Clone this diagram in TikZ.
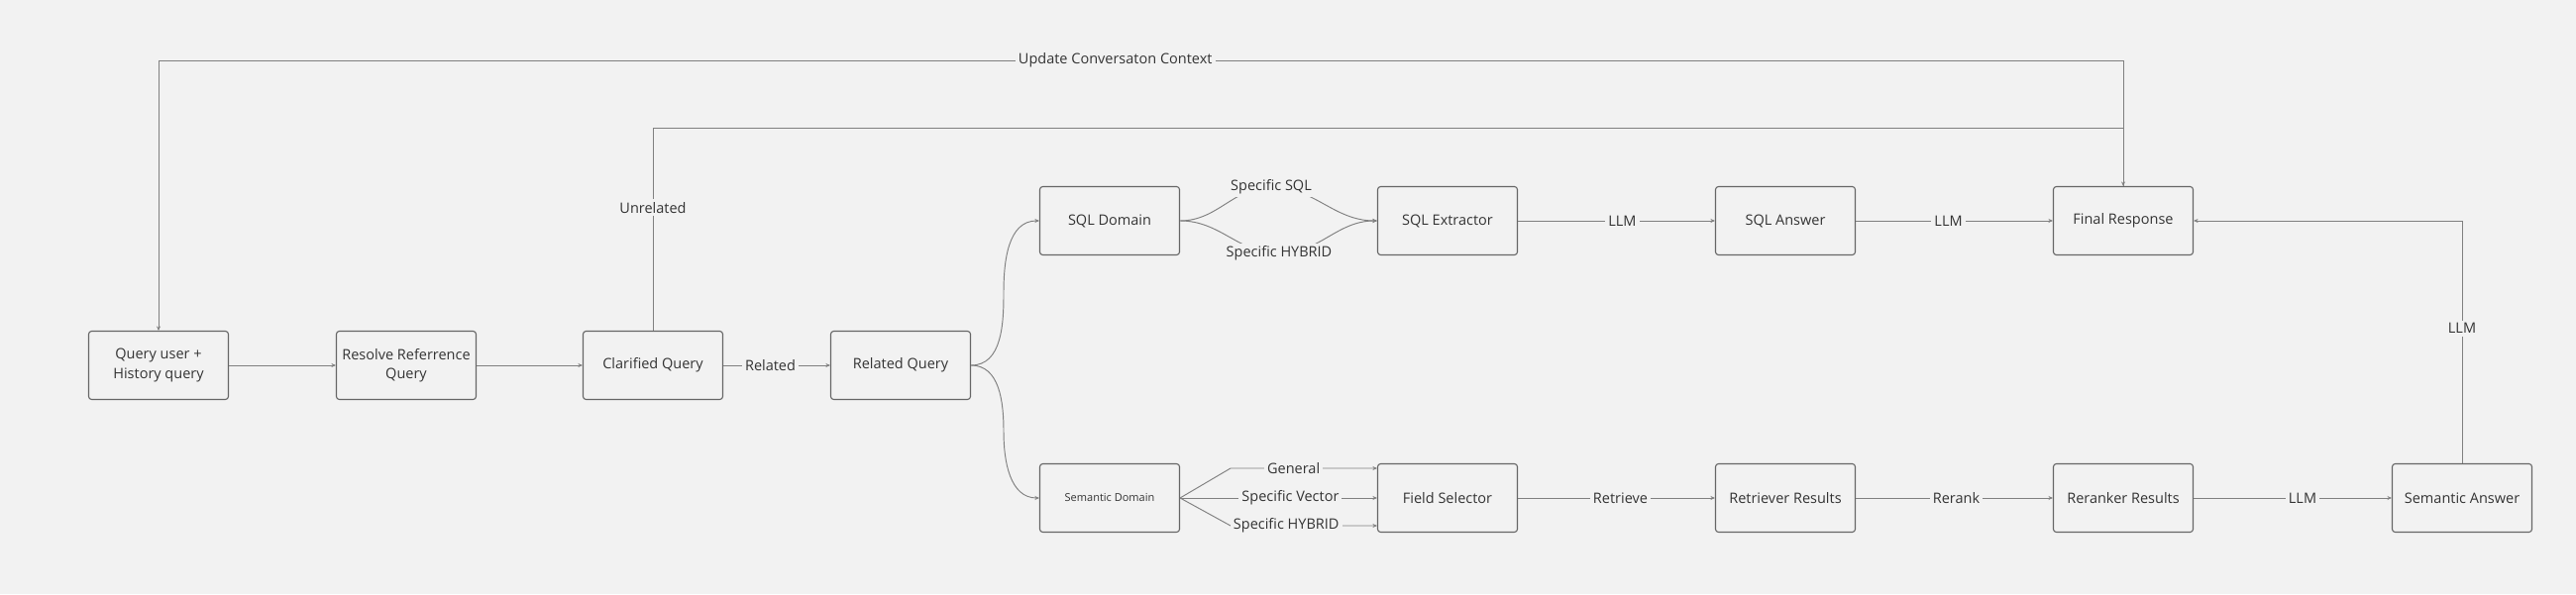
\documentclass[tikz,border=0pt]{standalone}
\usepackage{fontspec}
\setmainfont{Open Sans}
\usetikzlibrary{arrows.meta}
\definecolor{bg}{HTML}{F2F2F2}
\definecolor{bordc}{HTML}{666666}
\definecolor{linec}{HTML}{808080}
\definecolor{txtc}{HTML}{333333}
\begin{document}
\begin{tikzpicture}[x=1pt,y=1pt,
  box/.style={draw=bordc, line width=1.1pt, rounded corners=3pt, fill=bg,
    minimum width=141pt, minimum height=69pt, align=center, text=txtc,
    font=\fontsize{14.5}{19.5}\selectfont, inner sep=2pt},
  conn/.style={draw=linec, line width=0.95pt, -{Stealth[length=4.5pt,width=4pt]}},
  lbl/.style={fill=bg, text=txtc, font=\fontsize{14.5}{17}\selectfont, inner sep=3pt}]
\fill[bg] (0,0) rectangle (2600,600);
\useasboundingbox (0,0) rectangle (2600,600);

% nodes
\node[box] (q)    at (160,231)  {Query user +\\History query};
\node[box] (res)  at (410,231)  {Resolve Referrence\\Query};
\node[box] (clar) at (659,231)  {Clarified Query};
\node[box] (rel)  at (909,231)  {Related Query};
\node[box] (sqld) at (1120,377) {SQL Domain};
\node[box, font=\fontsize{11}{14}\selectfont] (semd) at (1120,97) {Semantic Domain};
\node[box] (sqlx) at (1461,377) {SQL Extractor};
\node[box] (fs)   at (1461,97)  {Field Selector};
\node[box] (sqla) at (1802,377) {SQL Answer};
\node[box] (ret)  at (1802,97)  {Retriever Results};
\node[box] (fin)  at (2143,377) {Final Response};
\node[box] (rer)  at (2143,97)  {Reranker Results};
\node[box] (sema) at (2485,97)  {Semantic Answer};

% helper coordinates
\coordinate (u1) at (2143,539);
\coordinate (u2) at (160,539);
\coordinate (n1) at (659,471);
\coordinate (n2) at (2143,471);
\coordinate (c1) at (2485,377);
\coordinate (m1) at (1013,304);
\coordinate (m2) at (1013,164);
\coordinate (wss) at (1283,411);
\coordinate (wsh) at (1291,344);
\coordinate (g1) at (1242,127);
\coordinate (h1) at (1242,69);

% top loops
\draw[conn] (fin.north) -- (u1) -- node[lbl,pos=0.513]{Update Conversaton Context} (u2) -- (q.north);
\draw[conn] (clar.north) -- node[lbl,pos=0.606]{Unrelated} (n1) -- (n2) -- (fin.north);

% main row
\draw[conn] (q) -- (res);
\draw[conn] (res) -- (clar);
\draw[conn] (clar) -- node[lbl,pos=0.44]{Related} (rel);

% split
\draw[conn] (rel.east) to[out=0,in=-90] (m1) to[out=90,in=180] (sqld.west);
\draw[conn] (rel.east) to[out=0,in=90] (m2) to[out=-90,in=180] (semd.west);

% SQL branch
\draw[conn] (sqld.east) to[out=0,in=180] (wss) to[out=0,in=180] (sqlx.west);
\draw[conn] (sqld.east) to[out=0,in=180] (wsh) to[out=0,in=180] (sqlx.west);
\node[lbl] at (wss) {Specific SQL};
\node[lbl] at (wsh) {Specific HYBRID};
\draw[conn] (sqlx) -- node[lbl,pos=0.53]{LLM} (sqla);
\draw[conn] (sqla) -- node[lbl,pos=0.47]{LLM} (fin);

% semantic branch
\draw[conn] (semd.east) -- (g1) -- node[lbl,pos=0.43]{General} (fs.west |- g1);
\draw[conn] (semd.east) -- node[lbl,pos=0.56]{Specific Vector} (fs.west);
\draw[conn] (semd.east) -- (h1) -- node[lbl,pos=0.38]{Specific HYBRID} (fs.west |- h1);
\draw[conn] (fs) -- node[lbl,pos=0.52]{Retrieve} (ret);
\draw[conn] (ret) -- node[lbl,pos=0.51]{Rerank} (rer);
\draw[conn] (rer) -- node[lbl,pos=0.55]{LLM} (sema);
\draw[conn] (sema.north) -- node[lbl,pos=0.556]{LLM} (c1) -- (fin.east);
\end{tikzpicture}
\end{document}
